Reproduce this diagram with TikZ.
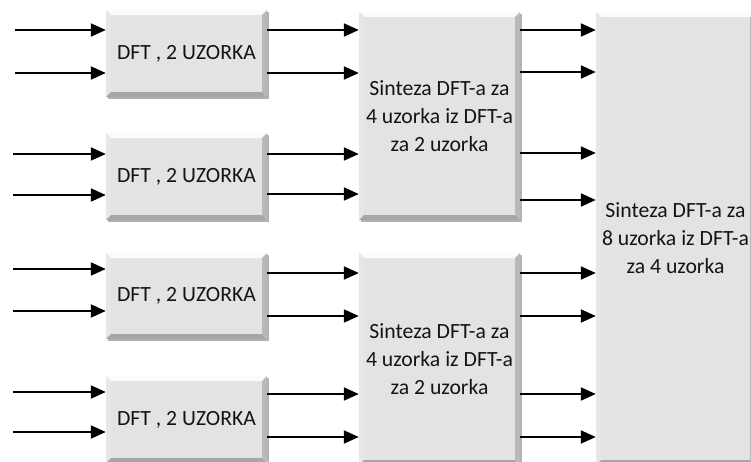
\documentclass[tikz,border=0pt]{standalone}
\usepackage{fontspec}
\setmainfont{Carlito}
\usetikzlibrary{arrows.meta,shadows}
\definecolor{boxgray}{HTML}{E3E3E3}
\tikzset{
  bevelbox/.style={draw=none, fill=boxgray, inner sep=0pt, align=center,
    text=black!92, font=\fontsize{21.7}{28}\selectfont,
    drop shadow={shadow xshift=1.5pt, shadow yshift=-1.5pt, opacity=0.3, fill=black},
    path picture={
      \fill[white!85!boxgray] (path picture bounding box.north west) -- (path picture bounding box.north east)
        -- ([xshift=-5pt,yshift=-5pt]path picture bounding box.north east) -- ([xshift=5pt,yshift=-5pt]path picture bounding box.north west) -- cycle;
      \fill[boxgray!85!white] (path picture bounding box.north west) -- ([xshift=5pt,yshift=-5pt]path picture bounding box.north west)
        -- ([xshift=5pt,yshift=5pt]path picture bounding box.south west) -- (path picture bounding box.south west) -- cycle;
      \fill[gray!70] (path picture bounding box.south west) -- ([xshift=5pt,yshift=5pt]path picture bounding box.south west)
        -- ([xshift=-5pt,yshift=5pt]path picture bounding box.south east) -- (path picture bounding box.south east) -- cycle;
      \fill[gray!55] (path picture bounding box.north east) -- ([xshift=-5pt,yshift=-5pt]path picture bounding box.north east)
        -- ([xshift=-5pt,yshift=5pt]path picture bounding box.south east) -- (path picture bounding box.south east) -- cycle;
    }},
  arr/.style={line width=2pt, -{Triangle[length=15pt,width=13pt]}},
}
\begin{document}
\begin{tikzpicture}[x=1pt,y=-1pt]
\useasboundingbox (0,0) rectangle (751,461);
\clip (0,0) rectangle (751,461);
\fill[white] (0,0) rectangle (751,461);
% DFT boxes
\node[bevelbox, minimum width=161pt, minimum height=87pt] (d1) at (186.5,53.5) {DFT , 2 UZORKA};
\node[bevelbox, minimum width=161pt, minimum height=87pt] (d2) at (186.5,176.5) {DFT , 2 UZORKA};
\node[bevelbox, minimum width=161pt, minimum height=86pt] (d3) at (186.5,296) {DFT , 2 UZORKA};
\node[bevelbox, minimum width=161pt, minimum height=87pt] (d4) at (186.5,419.5) {DFT , 2 UZORKA};
% synthesis boxes
\node[bevelbox, minimum width=161pt, minimum height=208pt] (s1) at (439.5,116) {Sinteza DFT-a za\\4 uzorka iz DFT-a\\za 2 uzorka};
\node[bevelbox, minimum width=161pt, minimum height=212pt] (s2) at (439.5,359) {Sinteza DFT-a za\\4 uzorka iz DFT-a\\za 2 uzorka};
\node[bevelbox, minimum width=159pt, minimum height=453pt] (b) at (675.5,238.5) {Sinteza DFT-a za\\8 uzorka iz DFT-a\\za 4 uzorka};
% input coordinates
\coordinate (i1) at (15,30);
\coordinate (i2) at (15,73);
\coordinate (i3) at (13,154);
\coordinate (i4) at (13,195);
\coordinate (i5) at (13,269);
\coordinate (i6) at (13,311);
\coordinate (i7) at (13,392);
\coordinate (i8) at (13,432);
\foreach \i/\d in {1/d1,2/d1,3/d2,4/d2,5/d3,6/d3,7/d4,8/d4}
  \draw[arr] (i\i) -- (i\i -| \d.west);
% outputs of DFT boxes into synthesis boxes
\coordinate (o1) at (0,30);
\coordinate (o2) at (0,73);
\coordinate (o3) at (0,154);
\coordinate (o4) at (0,194);
\coordinate (o5) at (0,273);
\coordinate (o6) at (0,316);
\coordinate (o7) at (0,394);
\coordinate (o8) at (0,437);
\foreach \i/\d/\s in {1/d1/s1,2/d1/s1,3/d2/s1,4/d2/s1,5/d3/s2,6/d3/s2,7/d4/s2,8/d4/s2}
  \draw[arr] (o\i -| \d.east) -- (o\i -| \s.west);
% outputs of synthesis boxes into big box
\coordinate (p1) at (0,30);
\coordinate (p2) at (0,72);
\coordinate (p3) at (0,153);
\coordinate (p4) at (0,200);
\coordinate (p5) at (0,273);
\coordinate (p6) at (0,316);
\coordinate (p7) at (0,394);
\coordinate (p8) at (0,437);
\foreach \i/\s in {1/s1,2/s1,3/s1,4/s1,5/s2,6/s2,7/s2,8/s2}
  \draw[arr] (p\i -| \s.east) -- (p\i -| b.west);
\end{tikzpicture}
\end{document}
